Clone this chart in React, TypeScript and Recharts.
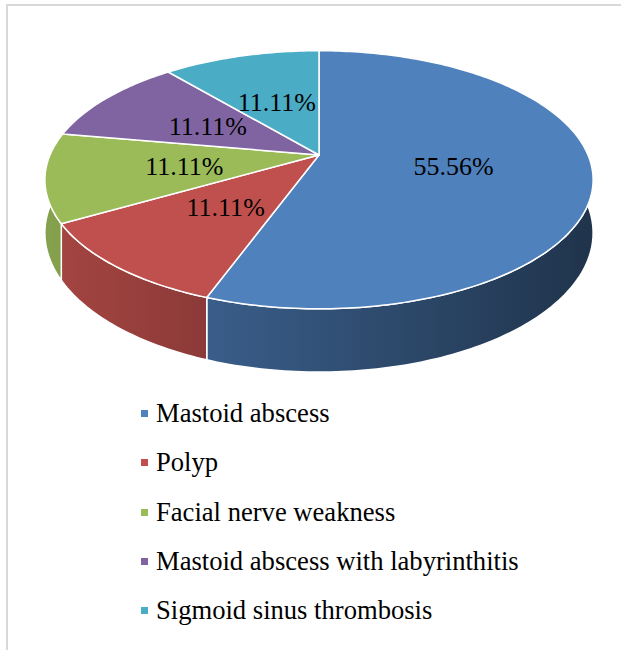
import { PieChart, Pie, Cell, Legend } from "recharts";

const categories = [
  "Mastoid abscess",
  "Polyp",
  "Facial nerve weakness",
  "Mastoid abscess with labyrinthitis",
  "Sigmoid sinus thrombosis",
];
const cases = [5, 1, 1, 1, 1];
const COLORS = ["#4F81BD", "#C0504D", "#9BBB59", "#8064A2", "#4BACC6"];

const data = categories.map((name, i) => ({ name, value: cases[i] }));

// fake 3d: squash ratio, perspective strength, wall height (all relative to radius)
const TILT = 0.462;
const PERSP = 0.192;
const DEPTH = 0.19;
const FONT = '"Liberation Serif", "Times New Roman", serif';

const project = (cx: number, cy: number, r: number, angle: number, t: number) => {
  const rad = (angle * Math.PI) / 180;
  const u = Math.cos(rad) * t;
  const v = -Math.sin(rad) * t;
  const f = 1 / (1 - PERSP * v);
  return { x: cx + r * u * f, y: cy + r * TILT * v * f, f };
};

const shade = (hex: string, k: number) => {
  const n = parseInt(hex.slice(1), 16);
  const r = Math.round(((n >> 16) & 255) * k);
  const g = Math.round(((n >> 8) & 255) * k);
  const b = Math.round((n & 255) * k);
  return `rgb(${r},${g},${b})`;
};

const Slice3D = (props: any) => {
  const { cx, cy, outerRadius, startAngle, endAngle, fill, index } = props;
  const r = outerRadius;

  const arc = (a0: number, a1: number) => {
    const n = Math.max(2, Math.ceil(Math.abs(a1 - a0)));
    const pts = [];
    for (let i = 0; i <= n; i++) {
      pts.push(project(cx, cy, r, a0 + ((a1 - a0) * i) / n, 1));
    }
    return pts;
  };

  const top = arc(startAngle, endAngle);
  const topPath =
    `M${cx},${cy} ` + top.map((p) => `L${p.x.toFixed(2)},${p.y.toFixed(2)}`).join(" ") + " Z";

  // only the front half of the rim shows its wall
  const hi = Math.min(Math.max(startAngle, endAngle), 0);
  const lo = Math.max(Math.min(startAngle, endAngle), -180);
  let sidePath = "";
  if (hi > lo) {
    const upper = arc(hi, lo);
    const lower = arc(lo, hi).map((p) => ({ x: p.x, y: p.y + r * DEPTH * p.f }));
    sidePath =
      "M" +
      upper.map((p) => `${p.x.toFixed(2)},${p.y.toFixed(2)}`).join(" L") +
      " L" +
      lower.map((p) => `${p.x.toFixed(2)},${p.y.toFixed(2)}`).join(" L") +
      " Z";
  }

  const gid = `side-grad-${index}`;
  return (
    <g>
      <defs>
        <linearGradient id={gid} gradientUnits="userSpaceOnUse" x1={cx - r} y1={0} x2={cx + r} y2={0}>
          <stop offset="0%" stopColor={shade(fill, 0.86)} />
          <stop offset="100%" stopColor={shade(fill, 0.4)} />
        </linearGradient>
      </defs>
      {sidePath && (
        <path d={sidePath} fill={`url(#${gid})`} stroke="#fff" strokeWidth={1.5} strokeLinejoin="round" />
      )}
      <path d={topPath} fill={fill} stroke="#fff" strokeWidth={1.5} strokeLinejoin="round" />
    </g>
  );
};

const renderLabel = (props: any) => {
  const { cx, cy, midAngle, outerRadius, percent } = props;
  const p = project(cx, cy, outerRadius, midAngle, 0.5);
  return (
    <text
      x={p.x}
      y={p.y + 1}
      textAnchor="middle"
      dominantBaseline="central"
      style={{ fontFamily: FONT, fontSize: 26 }}
      fill="#000"
    >
      {(percent * 100).toFixed(2)}%
    </text>
  );
};

const renderLegend = (props: any) => {
  const { payload = [] } = props;
  // keep the data order, not recharts' sorted order
  const items = [...payload].sort(
    (a: any, b: any) => categories.indexOf(a.value) - categories.indexOf(b.value)
  );
  return (
    <ul style={{ listStyle: "none", margin: 0, padding: 0, fontFamily: FONT }}>
      {items.map((entry: any) => (
        <li key={entry.value} style={{ display: "flex", alignItems: "center", height: 49.25 }}>
          <span
            style={{
              display: "inline-block",
              width: 7,
              height: 7,
              marginRight: 8,
              background: COLORS[categories.indexOf(entry.value)] ?? entry.color,
            }}
          />
          <span>{entry.value}</span>
        </li>
      ))}
    </ul>
  );
};

export default function App() {
  return (
    <div
      style={{
        position: "absolute",
        left: 0,
        top: 0,
        width: 621,
        height: 650,
        overflow: "hidden",
        background: "#fff",
      }}
    >
      <div
        style={{
          position: "absolute",
          left: 6,
          top: 4,
          width: 700,
          height: 700,
          borderLeft: "2px solid #d9d9d9",
          borderTop: "2px solid #d9d9d9",
        }}
      />
      <PieChart width={621} height={650} margin={{ top: 0, right: 0, bottom: 0, left: 0 }}>
        <Pie
          data={data}
          dataKey="value"
          nameKey="name"
          cx={319}
          cy={155}
          outerRadius={269}
          startAngle={90}
          endAngle={-270}
          shape={Slice3D}
          label={renderLabel}
          labelLine={false}
          isAnimationActive={false}
        >
          {data.map((d, i) => (
            <Cell key={d.name} fill={COLORS[i]} />
          ))}
        </Pie>
        <Legend
          content={renderLegend}
          wrapperStyle={{
            top: 389,
            left: 141,
            bottom: "auto",
            width: 475,
            fontSize: 26.6,
            color: "#000",
          }}
        />
      </PieChart>
    </div>
  );
}
